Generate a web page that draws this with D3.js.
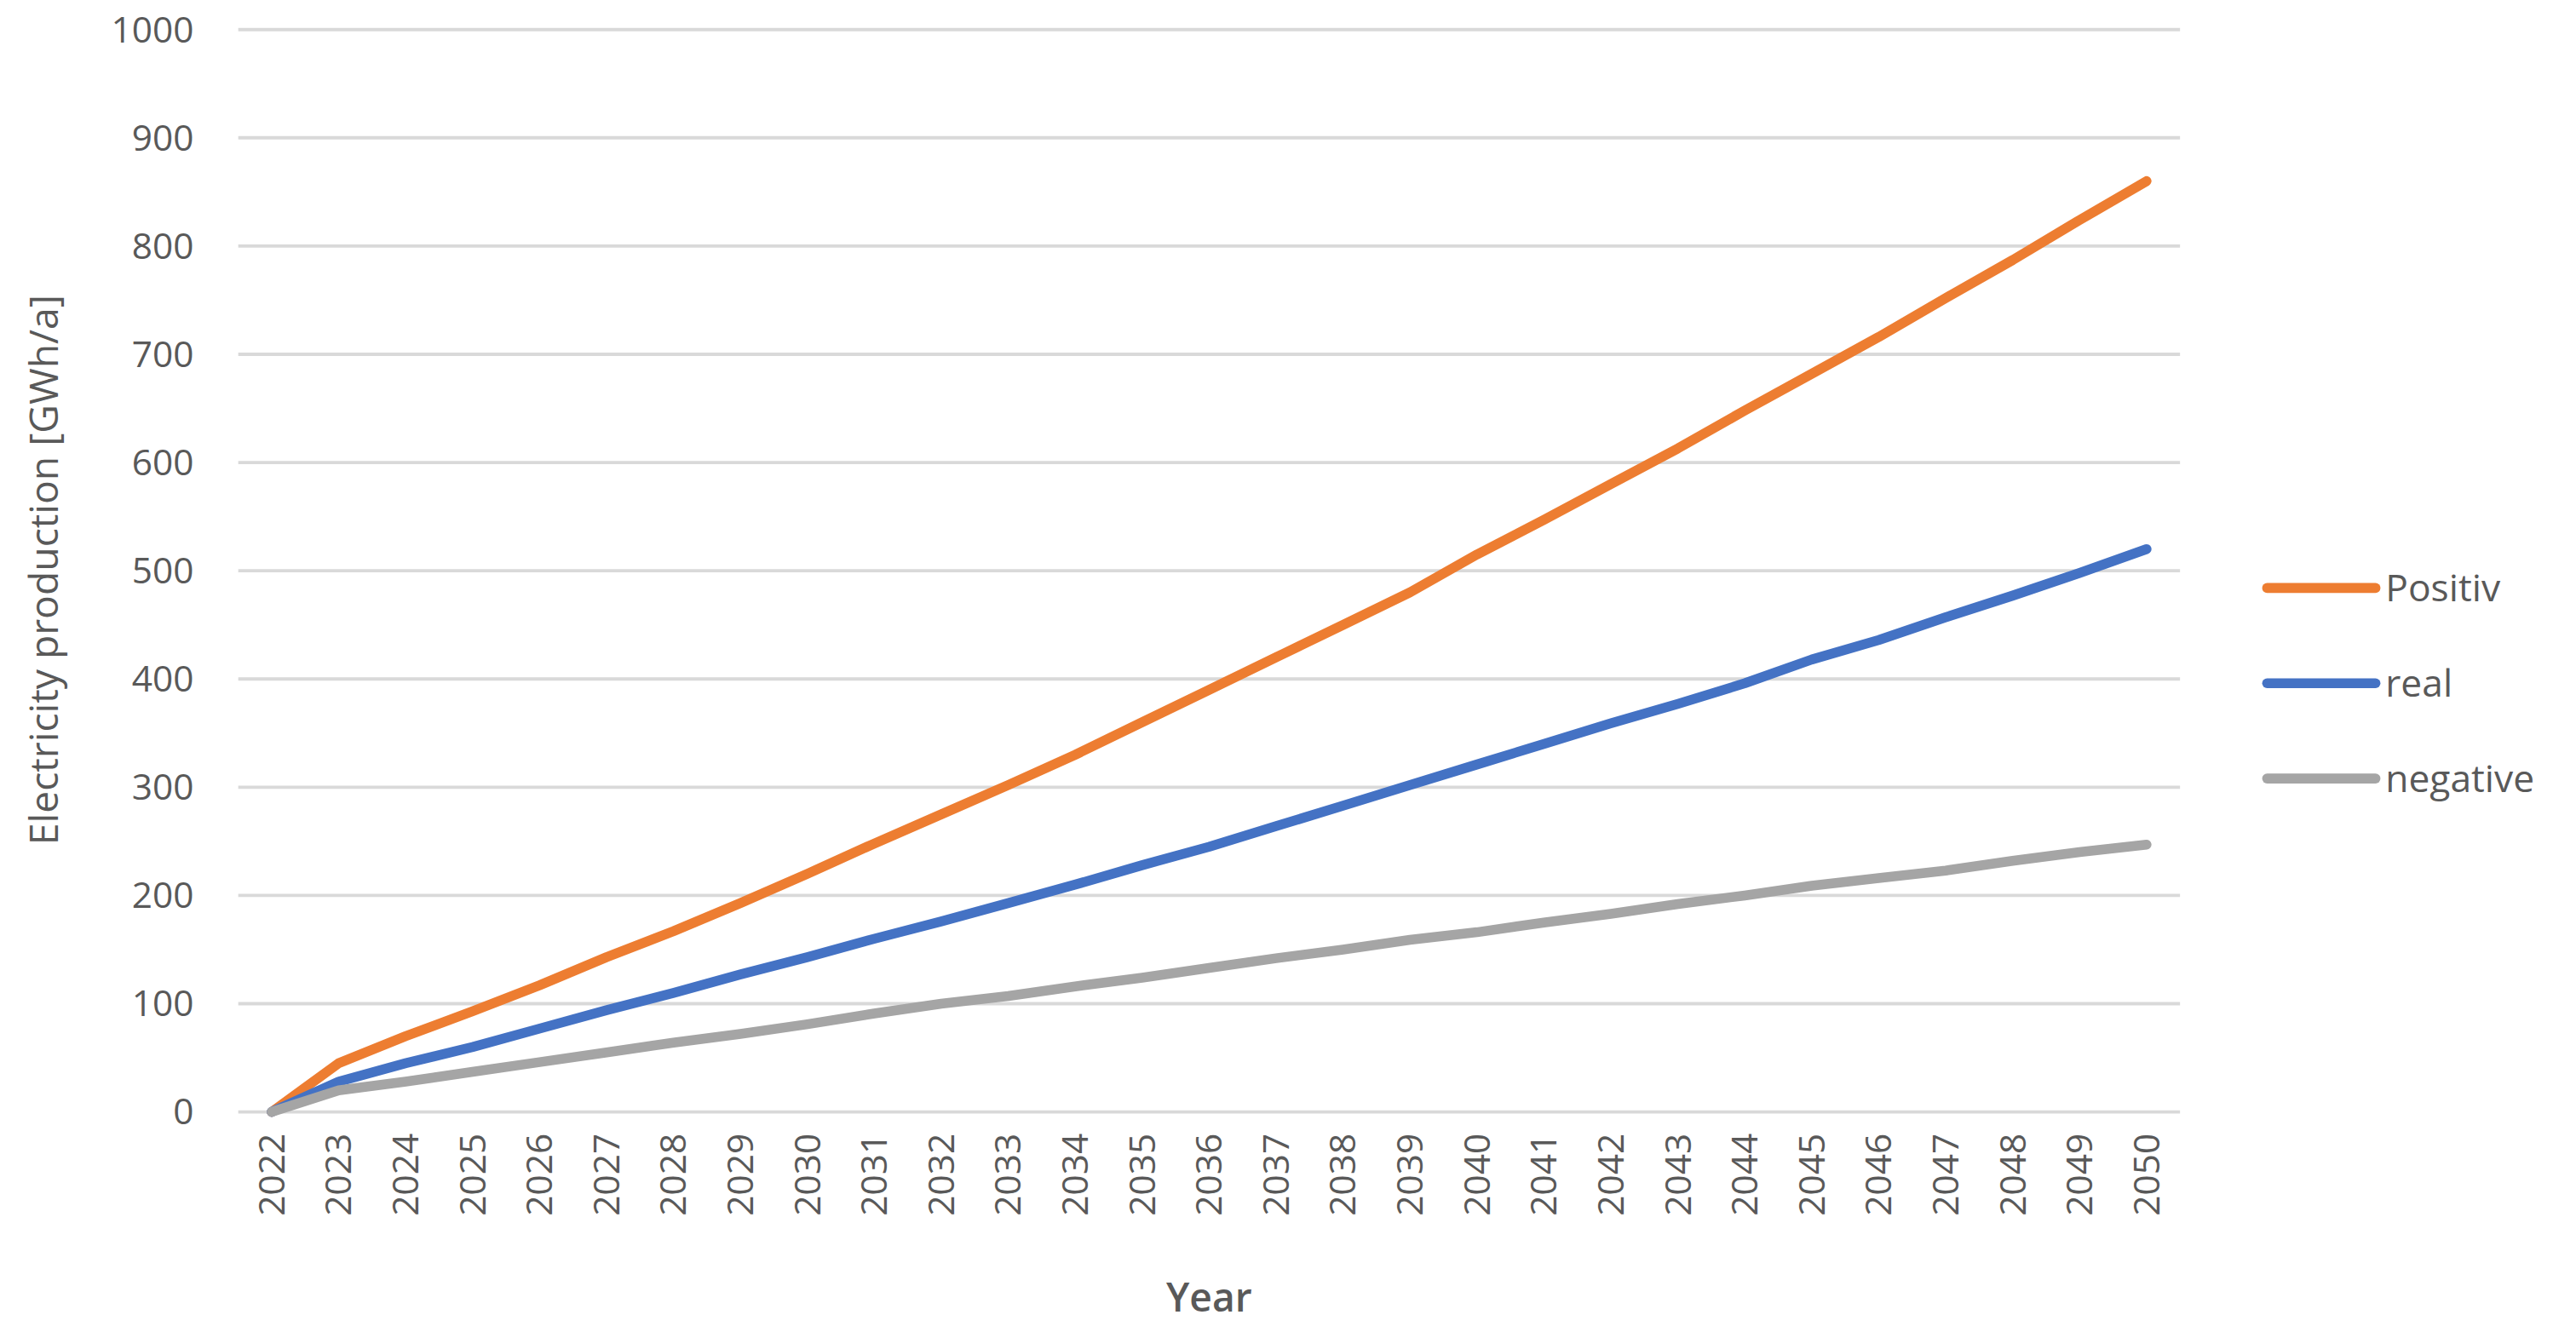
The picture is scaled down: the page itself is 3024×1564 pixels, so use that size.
<!DOCTYPE html>
<html><head><meta charset="utf-8">
<script src="https://cdn.jsdelivr.net/npm/d3@7"></script>
<style>body{margin:0;background:#fff}svg{display:block}</style>
</head><body>
<svg id="chart" width="3024" height="1564" viewBox="0 0 1568 811"></svg>
<script>
// years on the x axis
const years = d3.range(2022, 2051).map(String);
const positiv = [0,45,70,93,117,143,167,193,220,248,275,302,330,360,390,420,450,480,515,547,580,613,648,682,716,752,787,824,860];
const real = [0,28,45,60,77,94,110,127,143,160,176,193,210,228,245,264,283,302,321,340,359,377,396,418,436,457,477,498,520];
const negative = [0,20,28,37,46,55,64,72,81,91,100,107,116,124,133,142,150,159,166,175,183,192,200,209,216,223,232,240,247];
const yTicks = [0,100,200,300,400,500,600,700,800,900,1000];

const series = [
  {name: 'Positiv', values: positiv, color: '#ED7D31'},
  {name: 'real', values: real, color: '#4472C4'},
  {name: 'negative', values: negative, color: '#A5A5A5'}
];

const svg = d3.select('#chart');
const font = '"Open Sans", "Liberation Sans", sans-serif';
const plotLeft = 145, plotRight = 1327, plotTop = 18, plotBottom = 677;

const x = d3.scaleBand().domain(years).range([plotLeft, plotRight]);
const y = d3.scaleLinear().domain([0, 1000]).range([plotBottom, plotTop]);

// gridlines
svg.append('g').selectAll('line').data(yTicks).join('line')
  .attr('x1', plotLeft).attr('x2', plotRight)
  .attr('y1', d => y(d)).attr('y2', d => y(d))
  .attr('stroke', '#d9d9d9').attr('stroke-width', 2);

// y axis labels
svg.append('g').selectAll('text').data(yTicks).join('text')
  .attr('x', 118).attr('y', d => y(d)).attr('dy', '0.35em')
  .attr('text-anchor', 'end')
  .attr('font-family', font).attr('font-size', 22).attr('fill', '#595959')
  .text(d => d);

// x axis labels (rotated)
svg.append('g').selectAll('text').data(years).join('text')
  .attr('transform', d => `translate(${x(d) + x.bandwidth() / 2},690) rotate(-90)`)
  .attr('dy', '0.35em').attr('text-anchor', 'end')
  .attr('font-family', font).attr('font-size', 22).attr('fill', '#595959')
  .text(d => d);

// lines
const line = d3.line()
  .x((d, i) => x(years[i]) + x.bandwidth() / 2)
  .y(d => y(d));

svg.append('g').selectAll('path').data(series).join('path')
  .attr('d', s => line(s.values))
  .attr('fill', 'none').attr('stroke', s => s.color)
  .attr('stroke-width', 6).attr('stroke-linecap', 'round').attr('stroke-linejoin', 'round');

// axis titles
svg.append('text')
  .attr('transform', 'translate(27,347) rotate(-90)')
  .attr('text-anchor', 'middle').attr('dy', '0.35em')
  .attr('font-family', font).attr('font-size', 24).attr('fill', '#595959')
  .text('Electricity production [GWh/a]');

svg.append('text')
  .attr('x', 736).attr('y', 790).attr('dy', '0.35em')
  .attr('text-anchor', 'middle')
  .attr('font-family', font).attr('font-size', 24).attr('font-weight', 600).attr('fill', '#595959')
  .text('Year');

// legend
const lg = svg.append('g').selectAll('g').data(series).join('g')
  .attr('transform', (d, i) => `translate(1380,${358 + i * 58})`);
lg.append('line').attr('x1', 0).attr('x2', 66)
  .attr('stroke', d => d.color).attr('stroke-width', 6).attr('stroke-linecap', 'round');
lg.append('text').attr('x', 72).attr('dy', '0.35em')
  .attr('font-family', font).attr('font-size', 23).attr('fill', '#595959')
  .text(d => d.name);
</script>
</body></html>
